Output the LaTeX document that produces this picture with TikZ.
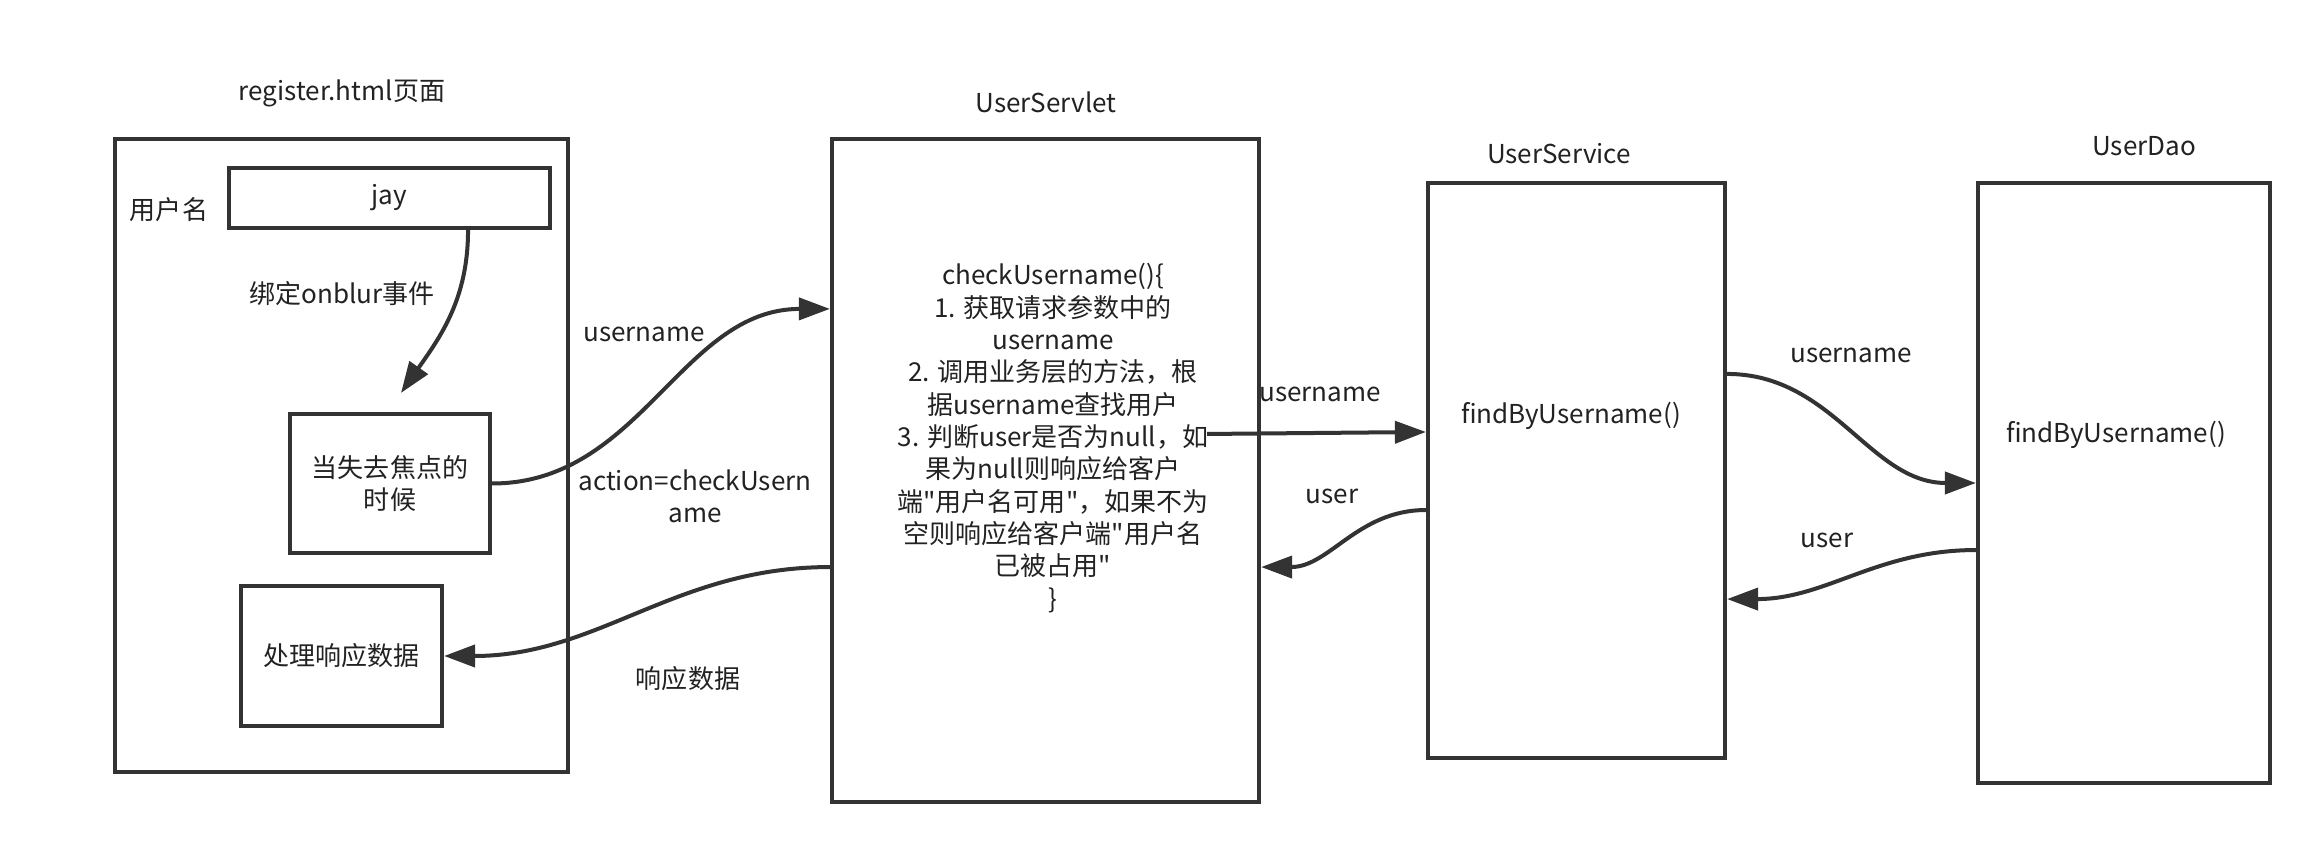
\documentclass[tikz,border=0pt]{standalone}
\usepackage{fontspec}
\setmainfont{Noto Sans CJK SC}[Ligatures=TeXOff]
\usetikzlibrary{arrows.meta}
\definecolor{ln}{HTML}{333333}
\definecolor{tx}{HTML}{222222}
\newcommand\diagfont{\fontsize{7.4pt}{9.2pt}\selectfont\lineskiplimit=-100pt\relax\lineskip=0pt\relax}
\tikzset{
  box/.style={draw=ln, line width=0.04cm, inner sep=0pt, text=tx, align=center},
  lbl/.style={text=tx, inner sep=0pt, align=center},
  conn/.style={draw=ln, line width=0.04cm, -{Triangle[length=0.31cm,width=0.22cm]}}
}
\begin{document}
\begin{tikzpicture}[x=0.01cm,y=-0.01cm,font=\diagfont]
\useasboundingbox (0,0) rectangle (2320,852);
\fill[white] (0,0) rectangle (2320,852);
% boxes
\node[box, minimum width=4.53cm, minimum height=6.33cm] (outer) at (341.5,455.5) {};
\node[box, minimum width=3.21cm, minimum height=0.60cm] (jay) at (389.5,198) {jay};
\node[box, minimum width=2.00cm, minimum height=1.39cm] (focus) at (390,483.5) {当失去焦点的\\时候};
\node[box, minimum width=2.01cm, minimum height=1.40cm] (handle) at (341.5,656) {处理响应数据};
\node[box, minimum width=4.27cm, minimum height=6.63cm] (servlet) at (1045.5,470.5) {};
\node[box, minimum width=2.97cm, minimum height=5.75cm] (service) at (1576.5,470.5) {};
\node[box, minimum width=2.92cm, minimum height=6.00cm] (dao) at (2124,483) {};
% titles and texts
\node[lbl] (t1) at (342,93) {register.html页面};
\node[lbl] (t2) at (169,210) {用户名};
\node[lbl] (t3) at (1046,102) {UserServlet};
\node[lbl] (t4) at (1559,154) {UserService};
\node[lbl] (t5) at (2144,146) {UserDao};
\node[lbl] (code) at (1053,438) {checkUsername()\{\\1. 获取请求参数中的\\username\\2. 调用业务层的方法，根\\据username查找用户\\3. 判断user是否为null，如\\果为null则响应给客户\\端"用户名可用"，如果不为\\空则响应给客户端"用户名\\已被占用"\\\}};
\node[lbl] (f1) at (1571,416) {findByUsername()};
\node[lbl] (f2) at (2116,435) {findByUsername()};
% connectors
\draw[conn] ([xshift=0.785cm]jay.south) to[out=-90,in=55] ([xshift=0.11cm,yshift=0.19cm]focus.north);
\draw[conn] (focus.east) to[out=0,in=180] ([yshift=1.615cm]servlet.west);
\draw[conn] ([yshift=-0.965cm]servlet.west) to[out=180,in=0] (handle.east);
\draw[conn] ([xshift=1.615cm,yshift=0.365cm]servlet.center) -- ([yshift=0.385cm]service.west);
\draw[conn] ([yshift=-0.395cm]service.west) to[out=180,in=0] ([yshift=-0.965cm]servlet.east);
\draw[conn] ([yshift=0.965cm]service.east) to[out=0,in=180] (dao.west);
\draw[conn] ([yshift=-0.67cm]dao.west) to[out=180,in=0] ([yshift=-1.285cm]service.east);
% connector labels
\node[lbl] (l1) at (342,294) {绑定onblur事件};
\node[lbl] (l2) at (644,334) {username};
\node[lbl, align=center] (l3) at (695,496) {action=checkUsern\\ame};
\node[lbl] (l4) at (688,679) {响应数据};
\node[lbl] (l5) at (1320,394) {username};
\node[lbl] (l6) at (1332,496) {user};
\node[lbl] (l7) at (1851,355) {username};
\node[lbl] (l8) at (1827,540) {user};
\end{tikzpicture}
\end{document}
